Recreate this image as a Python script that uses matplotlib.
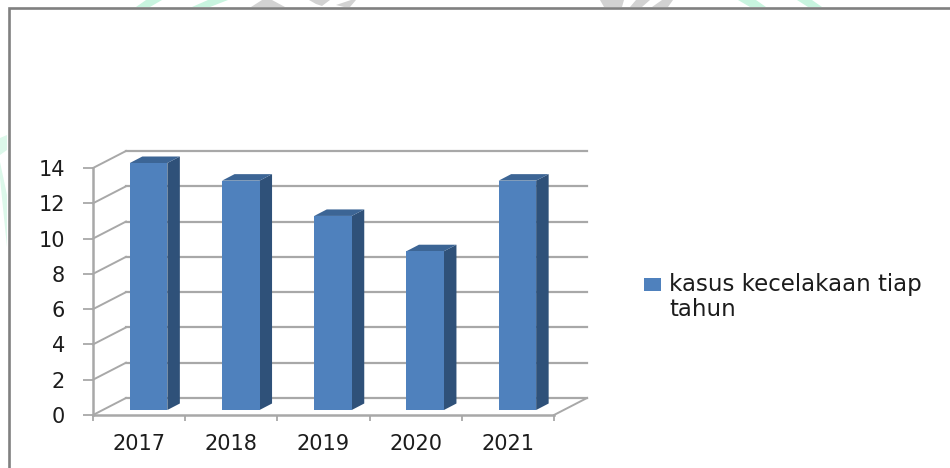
"""Accident cases per year, drawn as a 3D-look column chart with a page frame."""
import matplotlib
import numpy as np

matplotlib.use("Agg")
import matplotlib.pyplot as plt  # noqa: E402
from matplotlib.patches import Polygon, Rectangle  # noqa: E402

YEARS = ["2017", "2018", "2019", "2020", "2021"]
CASES = [14, 13, 11, 9, 13]
Y_TICKS = [0, 2, 4, 6, 8, 10, 12, 14]
LEGEND_LABEL = "kasus kecelakaan tiap\ntahun"

W, H = 950, 468
GRID = "#a8a8a8"
FRONT = "#4f81bd"
SIDE = "#2f5179"
TOP = "#3c6595"
TEXT = "#1c1c1c"
FRAME = "#808080"
MARK_GREEN = "#c8f4df"
MARK_PALE = "#dcf8ea"
MARK_GRAY = "#d2d2d2"

# wall depth and column depth, in data units of the main axes
WALL_DX, WALL_DY = 33 / 92.2, 17 / 17.64
BAR_DX, BAR_DY = 12.5 / 92.2, 6.5 / 17.64
BAR_W = 37.5 / 92.2
BAR_SHIFT = 9.5 / 92.2
BAR_LIFT = 5 / 17.64

fig = plt.figure(figsize=(W / 100, H / 100), dpi=100, facecolor="white")

# page layer in pixel coordinates: cut-off watermark and the outer frame
bg = fig.add_axes([0, 0, 1, 1], zorder=0)
bg.set_xlim(0, W)
bg.set_ylim(H, 0)
bg.axis("off")
green_bits = [
    [(136, 7), (146, 0), (162, 0), (150, 7)],
    [(192, 7), (208, 0), (228, 0), (210, 7)],
    [(738, 0), (756, 0), (766, 7), (750, 7)],
    [(797, 0), (812, 0), (822, 7), (808, 7)],
]
pale_bits = [
    [(0, 138), (7, 135), (7, 150), (0, 155)],
    [(0, 162), (7, 195), (7, 247), (3, 208), (0, 178)],
]
gray_bits = [
    [(251, 7), (262, 0), (272, 0), (285, 7)],
    [(309, 0), (330, 0), (322, 6), (316, 4)],
    [(336, 5), (351, 0), (356, 0), (350, 7), (344, 7)],
    [(600, 0), (624, 0), (622, 7), (604, 7)],
    [(630, 7), (636, 0), (650, 0), (642, 7)],
    [(652, 7), (662, 0), (673, 0), (668, 7)],
]
for pts in green_bits:
    bg.add_patch(Polygon(pts, closed=True, fc=MARK_GREEN, ec="none"))
for pts in pale_bits:
    bg.add_patch(Polygon(pts, closed=True, fc=MARK_PALE, ec="none"))
for pts in gray_bits:
    bg.add_patch(Polygon(pts, closed=True, fc=MARK_GRAY, ec="none"))
bg.plot([8.5, 8.5, W], [H, 8, 8], color=FRAME, lw=1.9, solid_joinstyle="miter")

# legend swatch lines up with the first text line, so it is placed by hand
bg.add_patch(Rectangle((644, 278), 17, 13, fc=FRONT, ec="none"))
bg.text(669, 297, LEGEND_LABEL, fontsize=16.5, color=TEXT, va="center", ha="left",
        linespacing=1.13)

# main axes: front-left axis edge at x=93, floor at y=415, value 14 at y=168
ax = fig.add_axes([93 / W, 1 - 415 / H, 461 / W, 247 / H], zorder=1)
ax.patch.set_alpha(0)
ax.set_xlim(0, len(YEARS))
ax.set_ylim(0, 14)
for s in ax.spines.values():
    s.set_visible(False)

# back wall and side wall gridlines
for v in Y_TICKS:
    ax.plot([WALL_DX, len(YEARS) + WALL_DX], [v + WALL_DY, v + WALL_DY],
            color=GRID, lw=1.6, clip_on=False, zorder=1)
    ax.plot([0, WALL_DX], [v, v + WALL_DY], color=GRID, lw=1.4, clip_on=False, zorder=1)
ax.plot([len(YEARS), len(YEARS) + WALL_DX], [0, WALL_DY], color=GRID, lw=1.4,
        clip_on=False, zorder=1)

# front axis edges
ax.plot([0, 0], [0, 14], color=GRID, lw=1.8, clip_on=False, zorder=2)
ax.plot([0, len(YEARS)], [0, 0], color=GRID, lw=1.8, clip_on=False, zorder=2)

# columns: front face with ax.bar, side and top faces offset from it
xs = np.arange(len(YEARS)) + 0.5 + BAR_SHIFT
ax.bar(xs, CASES, width=BAR_W, bottom=BAR_LIFT, color=FRONT, zorder=4, clip_on=False)
for x, v in zip(xs, CASES):
    l, r = x - BAR_W / 2, x + BAR_W / 2
    top = v + BAR_LIFT
    ax.fill([r, r + BAR_DX, r + BAR_DX, r],
            [BAR_LIFT, BAR_LIFT + BAR_DY, top + BAR_DY, top],
            color=SIDE, lw=0, zorder=3, clip_on=False)
    ax.fill([l, l + BAR_DX, r + BAR_DX, r],
            [top, top + BAR_DY, top + BAR_DY, top],
            color=TOP, lw=0, zorder=3, clip_on=False)

# value axis ticks and labels
ax.set_yticks(Y_TICKS)
ax.set_yticklabels([str(v) for v in Y_TICKS])
ax.tick_params(axis="y", length=7.2, width=1.3, color=GRID, pad=13,
               labelsize=15, labelcolor=TEXT)

# year labels sit between the tick marks on the floor edge
ax.set_xticks(np.arange(len(YEARS) + 1))
ax.set_xticklabels([])
ax.set_xticks(np.arange(len(YEARS)) + 0.5, minor=True)
ax.set_xticklabels(YEARS, minor=True)
ax.tick_params(axis="x", which="major", length=4.5, width=1.3, color=GRID)
ax.tick_params(axis="x", which="minor", length=0, pad=14, labelsize=15, labelcolor=TEXT)

fig.savefig("out.png", dpi=100)
